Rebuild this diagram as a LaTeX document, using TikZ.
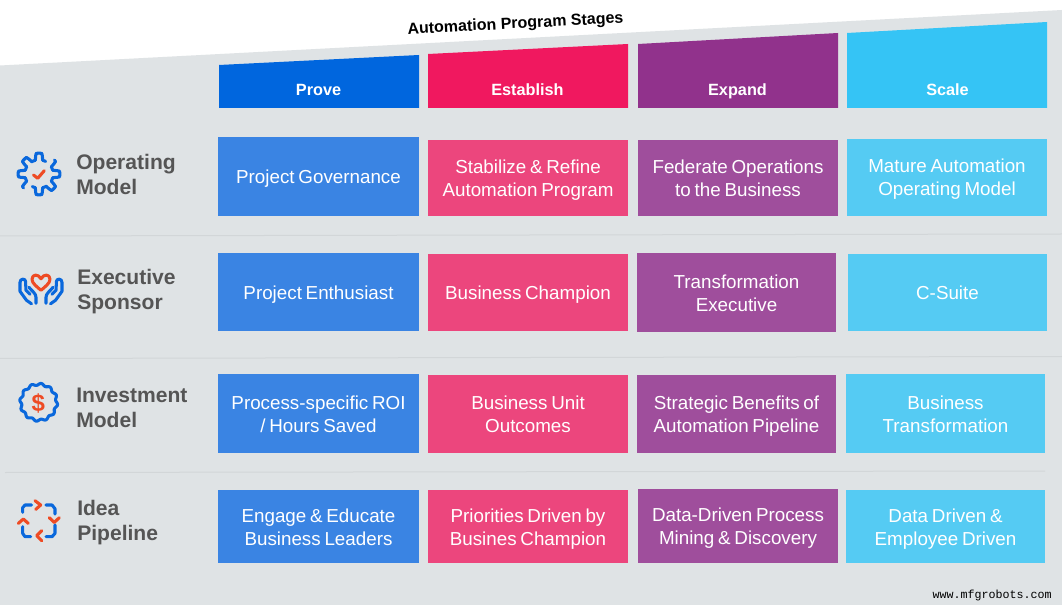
\documentclass[tikz,border=0pt]{standalone}
\usepackage{fontspec}
\setmainfont{Liberation Sans}[WordSpace=0.72]
\newfontfamily\plainfont{Liberation Sans}
\newfontfamily\wmfont{Liberation Mono}
\definecolor{bgc}{HTML}{DFE3E5}
\definecolor{sepc}{HTML}{D2D6D8}
\definecolor{hblue}{HTML}{0066DE}\definecolor{cblue}{HTML}{3A84E3}
\definecolor{hpink}{HTML}{F0185F}\definecolor{cpink}{HTML}{EC467D}
\definecolor{hpurp}{HTML}{91328C}\definecolor{cpurp}{HTML}{9F4E9C}
\definecolor{hcyan}{HTML}{35C4F5}\definecolor{ccyan}{HTML}{55CBF3}
\definecolor{lab}{HTML}{555555}
\definecolor{iblue}{HTML}{0A68DC}\definecolor{iorange}{HTML}{EE4B24}
\tikzset{
 hdr/.style={font=\bfseries\fontsize{12.2pt}{14pt}\selectfont,text=white,inner sep=0pt,anchor=base},
 cell/.style={font=\fontsize{14.1pt}{17.3pt}\selectfont,text=white,align=center,inner sep=0pt,anchor=center,
   execute at begin node=\strut,execute at end node=\strut},
 rowlab/.style={font=\bfseries\fontsize{15.8pt}{18.6pt}\selectfont,text=lab,align=left,inner sep=0pt,anchor=west},
 sep/.style={sepc,line width=0.75pt},
 ib/.style={iblue,line width=2.3pt,line cap=round,line join=round},
 io/.style={iorange,line width=2.3pt,line cap=round,line join=round},
}
\def\celloff{2.5}
\newcommand{\cellbox}[7]{% name x1 y1 x2 y2 colour text
 \fill[#6] (#2,#3) rectangle (#4,#5);
 \node[cell] (#1) at ({(#2+#4)/2},{(#3+#5)/2+\celloff}) {#7};}
\begin{document}
\begin{tikzpicture}[x=0.75pt,y=-0.75pt]
\useasboundingbox (0,0) rectangle (1062,605);
\fill[white] (0,0) rectangle (1062,605);
\fill[bgc] (0,65.5) -- (1062,10) -- (1062,605) -- (0,605) -- cycle;
\node[rotate=3,font=\plainfont\bfseries\fontsize{12pt}{14pt}\selectfont,text=black,inner sep=0pt] (title) at (515.5,24.5) {Automation Program Stages};
% headers
\fill[hblue] (219,65) -- (419,55) -- (419,108) -- (219,108) -- cycle;
\fill[hpink] (428,54) -- (628,44) -- (628,108) -- (428,108) -- cycle;
\fill[hpurp] (638,44) -- (838,33) -- (838,108) -- (638,108) -- cycle;
\fill[hcyan] (847,33) -- (1047,22) -- (1047,108) -- (847,108) -- cycle;
\node[hdr] (h1) at (318.5,95.5) {Prove};
\node[hdr] (h2) at (527.5,95.5) {Establish};
\node[hdr] (h3) at (737.5,95.5) {Expand};
\node[hdr] (h4) at (947.5,95.5) {Scale};
% separators
\draw[sep] (0,236) -- (1062,234);
\draw[sep] (0,358.5) -- (1062,356.5);
\draw[sep] (5,472.5) -- (1045,471);
% row 1
\cellbox{a1}{218}{137}{419}{216}{cblue}{Project Governance}
\def\celloff{3.5}
\cellbox{a2}{428}{140}{628}{216}{cpink}{Stabilize \& Refine\\Automation Program}
\cellbox{a3}{638}{140}{838}{216}{cpurp}{Federate Operations\\to the Business}
\cellbox{a4}{847}{139}{1047}{216}{ccyan}{Mature Automation\\Operating Model}
% row 2
\def\celloff{2.5}
\cellbox{b1}{218}{253}{419}{331}{cblue}{Project Enthusiast}
\cellbox{b2}{428}{254}{628}{331}{cpink}{Business Champion}
\def\celloff{4}
\cellbox{b3}{637}{253}{836}{332}{cpurp}{Transformation\\Executive}
\def\celloff{2.5}
\cellbox{b4}{848}{254}{1047}{331}{ccyan}{C-Suite}
% row 3
\def\celloff{4}
\cellbox{c1}{218}{374}{419}{453}{cblue}{Process-specific ROI\\/ Hours Saved}
\cellbox{c2}{428}{375}{628}{453}{cpink}{Business Unit\\Outcomes}
\cellbox{c3}{637}{375}{836}{453}{cpurp}{Strategic Benefits of\\Automation Pipeline}
\cellbox{c4}{846}{374}{1045}{453}{ccyan}{Business\\Transformation}
% row 4
\cellbox{d1}{218}{490}{419}{563}{cblue}{Engage \& Educate\\Business Leaders}
\cellbox{d2}{428}{490}{628}{563}{cpink}{Priorities Driven by\\Busines Champion}
\cellbox{d3}{638}{489}{838}{563}{cpurp}{Data-Driven Process\\Mining \& Discovery}
\cellbox{d4}{846}{490}{1045}{563}{ccyan}{Data Driven \&\\Employee Driven}
% row labels
\node[rowlab] (l1) at (76,174.5) {Operating\\Model};
\node[rowlab] (l2) at (77,291.5) {Executive\\Sponsor};
\node[rowlab] (l3) at (76,407.5) {Investment\\Model};
\node[rowlab] (l4) at (77,522.5) {Idea\\Pipeline};
% gear icon
\begin{scope}[shift={(39,174)}]
\draw[ib,samples=121,domain=-42:118] plot ({\x}:{17.5+3.3*max(min(2.2*sin(8*\x+90),1),-1)});
\draw[ib,samples=121,domain=138:298] plot ({\x}:{17.5+3.3*max(min(2.2*sin(8*\x+90),1),-1)});
\draw[io] (-5.5,1) -- (-1.3,4.3) -- (5.3,-3.3);
\end{scope}
% hands icon
\begin{scope}[shift={(41,282.3)}]
\draw[io] (0,8) .. controls (-4,4.5) and (-9,1) .. (-9,-3) .. controls (-9,-8.5) and (-2.5,-8.5) .. (0,-3.5) .. controls (2.5,-8.5) and (9,-8.5) .. (9,-3) .. controls (9,1) and (4,4.5) .. (0,8) -- cycle;
\foreach \s in {-1,1}{
\begin{scope}[xscale=\s]
\draw[ib] (15.5,-1) .. controls (15.5,-4) and (21,-4) .. (21,0) -- (21,9) -- (14.5,18) -- (9.5,21.5);
\draw[ib] (15.5,-1) -- (15,8) -- (11,12);
\draw[ib] (5,21) -- (5,15) .. controls (5,11) and (9,9) .. (12,5);
\end{scope}}
\end{scope}
% dollar icon
\begin{scope}[shift={(38.7,402.3)}]
\draw[ib,samples=145,domain=0:360,smooth] plot ({\x}:{18+1*sin(12*\x)});
\node[font=\bfseries\fontsize{18pt}{18pt}\selectfont,text=iorange,inner sep=0pt] (dollar) at (-0.4,0.8) {\$};
\end{scope}
% pipeline icon
\begin{scope}[shift={(39,521.7)}]
\draw[ib] (-7.3,-16.7) -- (-14,-16.7) -- (-16.3,-14) -- (-16.3,-9.3);
\draw[ib] (7,-16.7) -- (13,-16.7) -- (16,-13) -- (16,-7.7);
\draw[ib] (-16.3,5) -- (-16.3,11.7) -- (-14,15) -- (-8.3,15);
\draw[ib] (7,15) -- (13,15) -- (16,11.7) -- (16,3.3);
\draw[io] (-4,-21) -- (1.7,-16.7) -- (-3.3,-12.3);
\draw[io] (10.3,-4) -- (15.3,0.7) -- (20.3,-4);
\draw[io] (-20.7,1.7) -- (-15.7,-2.7) -- (-10.7,1.7);
\draw[io] (2.7,9) -- (-2.3,14) -- (2.7,19);
\end{scope}
\node[font=\wmfont\fontsize{8.75pt}{10pt}\selectfont,inner sep=0pt,anchor=east,text=black] (wm) at (1052,595) {www.mfgrobots.com};
\end{tikzpicture}
\end{document}
